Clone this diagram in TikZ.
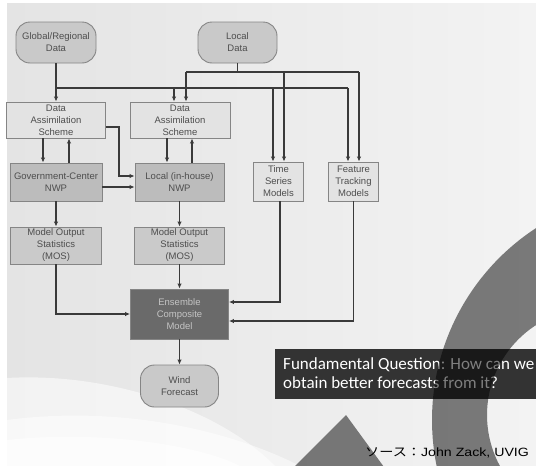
\documentclass[tikz,border=0pt]{standalone}
\usepackage{fontspec}
\setmainfont{Liberation Sans}
\newfontfamily\capfont{Carlito}
\newfontfamily\jpfont{Noto Sans CJK JP}
\usetikzlibrary{arrows.meta}
\definecolor{bgA}{HTML}{E4E4E4}
\definecolor{bgB}{HTML}{F3F3F3}
\definecolor{edgec}{HTML}{858585}
\definecolor{termfill}{HTML}{C9C9C9}
\definecolor{lightfill}{HTML}{E3E3E3}
\definecolor{nwpfill}{HTML}{BCBCBC}
\definecolor{mosfill}{HTML}{CACACA}
\definecolor{ensfill}{HTML}{6A6A6A}
\definecolor{ensText}{HTML}{C4C4C4}
\definecolor{linec}{HTML}{3A3A3A}
\definecolor{txtc}{HTML}{4E4E4E}
\definecolor{capfill}{HTML}{333333}
\tikzset{
  box/.style={draw=edgec, line width=0.9pt, inner sep=0pt, align=center, text=txtc,
    font=\fontsize{9.5}{12}\selectfont},
  term/.style={box, fill=termfill, rounded corners=14pt},
  dabox/.style={box, fill=lightfill},
  nwpbox/.style={box, fill=nwpfill},
  mosbox/.style={box, fill=mosfill},
  ensbox/.style={box, fill=ensfill, text=ensText},
  ln/.style={draw=linec, line width=1.3pt},
  arr/.style={ln, -{Latex[length=5pt,width=4.5pt]}},
}
\begin{document}
\begin{tikzpicture}[x=1pt,y=-1pt]
\useasboundingbox (0,0) rectangle (536,466);
\begin{scope}
\clip (0,0) rectangle (536,466);
\fill[white] (0,0) rectangle (536,466);
\shade[left color=bgA, right color=bgB] (7,3) rectangle (536,465);
\fill[white, opacity=0.55] (7,378) .. controls (110,372) and (220,410) .. (275,466) -- (7,466) -- cycle;
\fill[white, opacity=0.5] (7,420) .. controls (120,405) and (230,430) .. (300,466) -- (7,466) -- cycle;
\fill[white, opacity=0.6] (7,440) .. controls (100,430) and (200,445) .. (240,466) -- (7,466) -- cycle;

% nodes
\node[term, minimum width=80pt, minimum height=41pt] (glob) at (56,42.5) {Global/Regional\\Data};
\node[term, minimum width=79pt, minimum height=41pt] (loc) at (237.5,42.5) {Local\\Data};
\node[dabox, minimum width=99pt, minimum height=36pt] (das1) at (56,120) {Data\\Assimilation\\Scheme};
\node[dabox, minimum width=100pt, minimum height=36pt] (das2) at (180,120) {Data\\Assimilation\\Scheme};
\node[nwpbox, minimum width=92pt, minimum height=38pt] (gov) at (56,182) {Government-Center\\NWP};
\node[nwpbox, minimum width=89pt, minimum height=38pt] (lnwp) at (179.5,182) {Local (in-house)\\NWP};
\node[dabox, minimum width=50pt, minimum height=39pt] (ts) at (278.5,181.5) {Time\\Series\\Models};
\node[dabox, minimum width=50pt, minimum height=39pt] (ft) at (353.5,181.5) {Feature\\Tracking\\Models};
\node[mosbox, minimum width=91pt, minimum height=37pt] (mos1) at (56,245.5) {Model Output\\Statistics\\(MOS)};
\node[mosbox, minimum width=90pt, minimum height=37pt] (mos2) at (179.5,245.5) {Model Output\\Statistics\\(MOS)};
\node[ensbox, minimum width=98pt, minimum height=50pt] (ens) at (179.5,314) {Ensemble\\Composite\\Model};
\node[term, minimum width=78pt, minimum height=42pt] (wind) at (179.5,386) {Wind\\Forecast};

% buses
\coordinate (gb) at (56,88);
\coordinate (ge) at (348,88);
\coordinate (lb) at (186,72);
\coordinate (le) at (359,72);
\draw[ln] (gb) -- (ge);
\draw[ln] (loc.south) -- (loc.south |- lb);
\draw[ln] (lb) -- (le);
\draw[arr] (glob.south) -- (das1.north);
\draw[arr] ([xshift=-6pt]das2.north |- gb) -- ([xshift=-6pt]das2.north);
\draw[arr] ([xshift=-5.5pt]ts.north |- gb) -- ([xshift=-5.5pt]ts.north);
\draw[arr] (ge) -- (ge |- ft.north);
\draw[arr] (lb) -- (lb |- das2.north);
\draw[arr] ([xshift=5.5pt]ts.north |- lb) -- ([xshift=5.5pt]ts.north);
\draw[arr] (le) -- (le |- ft.north);

% assimilation <-> NWP
\draw[arr] ([xshift=-13pt]das1.south) -- ([xshift=-13pt]das1.south |- gov.north);
\draw[arr] ([xshift=13pt]gov.north) -- ([xshift=13pt]gov.north |- das1.south);
\draw[arr] ([xshift=-13pt]das2.south) -- ([xshift=-13pt]das2.south |- lnwp.north);
\draw[arr] ([xshift=12pt]das2.south |- lnwp.north) -- ([xshift=12pt]das2.south);
\draw[arr] ([yshift=-7pt]das1.east) -- ++(13,0) |- ([yshift=6pt]lnwp.west);
\draw[arr] ([yshift=-5pt]gov.east) -- ([yshift=-5pt]gov.east -| lnwp.west);

% to MOS and ensemble
\draw[arr] (gov.south) -- (mos1.north);
\draw[arr] (lnwp.south) -- (mos2.north);
\draw[arr] (mos1.south) |- (ens.west);
\draw[arr] (mos2.south) -- (ens.north);
\draw[arr] ([xshift=1.5pt]ts.south) |- ([yshift=12pt]ens.east);
\draw[arr] (ft.south) |- ([yshift=-7pt]ens.east);
\draw[arr] (ens.south) -- (wind.north);

% caption
\fill[capfill] (275,349) rectangle (540,399);
\node[anchor=base west, inner sep=0pt, text=white, font=\capfont\fontsize{17}{19}\selectfont] (cap1) at (283,369) {Fundamental Question: How can we};
\node[anchor=base west, inner sep=0pt, text=white, font=\capfont\fontsize{17}{19}\selectfont] (cap2) at (283,388) {obtain better forecasts from it?};

% source
\node[anchor=base west, inner sep=0pt, text=black] (src) at (365,456)
  {\scalebox{1.18}[1]{\fontsize{12}{14}\selectfont{\jpfont ソース：}John Zack, UVIG}};

% overlays
\fill[black, opacity=0.5, even odd rule] (661,420) circle[radius=229pt] (594,415) circle[radius=107pt];
\fill[black, opacity=0.5] (346,415) -- (283,478) -- (392,478) -- cycle;
\end{scope}
\end{tikzpicture}
\end{document}
